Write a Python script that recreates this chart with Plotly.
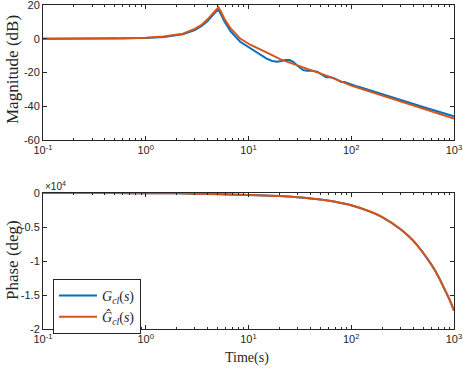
import plotly.graph_objects as go

# frequency grid (rad/s) and read-off values
freq_true = [0.1, 0.3, 0.6, 1, 1.5, 2.3, 3, 3.5, 4, 4.5, 4.8, 5.1, 5.4, 5.8, 6.7, 8.3,
             10.5, 13, 15, 17, 19, 21, 23, 25, 27, 30, 34, 37, 42, 47, 52, 57, 63, 68,
             74, 80, 86, 92, 100, 110, 120, 135, 150, 170, 200, 300, 500, 1000]
mag_true = [0, 0, 0.1, 0.4, 1.0, 2.6, 5.2, 7.6, 10.5, 14.0, 16.0, 17.0, 14.5, 10.5, 4.3, -1.8,
            -5.8, -9.5, -11.8, -13.2, -13.6, -13.2, -12.6, -12.6, -13.5, -16.0, -18.5, -18.9,
            -18.9, -19.6, -21.2, -22.8, -22.8, -23.3, -24.5, -25.6, -25.6, -26.3, -27.3, -28.0,
            -28.6, -29.6, -30.4, -31.4, -32.6, -36.2, -40.4, -46.0]

freq_est = [0.1, 0.3, 0.6, 1, 1.5, 2.3, 3, 3.5, 4, 4.5, 4.8, 5.1, 5.4, 5.8, 6.7, 8.3,
            10.5, 13, 16.4, 20.5, 35, 60, 100, 200, 500, 1000]
mag_est = [0, 0, 0.2, 0.6, 1.3, 3.0, 5.8, 8.3, 11.5, 15.0, 17.2, 18.6, 16.0, 12.0, 6.1, 0.1,
           -3.7, -6.2, -9.3, -12.2, -17.3, -22.3, -27.8, -33.8, -41.5, -47.3]

freq_phase = [0.1, 0.2, 0.5, 1, 2, 5, 10, 20, 30, 50, 70, 100, 150, 200, 300, 400, 500,
              600, 700, 800, 900, 1000]
phase_true = [-2, -4, -10, -25, -50, -170, -300, -450, -620, -950, -1300, -1800, -2700,
              -3550, -5300, -7000, -8800, -10500, -12200, -14000, -15600, -17300]
phase_est = [-2, -4, -10, -25, -50, -160, -290, -440, -610, -940, -1290, -1790, -2690,
             -3540, -5290, -6990, -8790, -10490, -12190, -13990, -15590, -17290]

x_ticks = [0.1, 1, 10, 100, 1000]
x_labels = ['10<sup>-1</sup>', '10<sup>0</sup>', '10<sup>1</sup>', '10<sup>2</sup>', '10<sup>3</sup>']
mag_ticks = [20, 0, -20, -40, -60]
phase_ticks = [0, -5000, -10000, -15000, -20000]
phase_labels = ['0', '-0.5', '-1', '-1.5', '-2']

BLUE = '#0072BD'
ORANGE = '#D95319'
AX = '#262626'
SERIF = 'Liberation Serif'
SANS = 'Liberation Sans'

minor_vals = [m * 10 ** e for e in range(-1, 3) for m in range(2, 10)]

fig = go.Figure()
fig.add_trace(go.Scatter(x=freq_true, y=mag_true, mode='lines', line=dict(color=BLUE, width=2),
                         xaxis='x', yaxis='y', showlegend=False))
fig.add_trace(go.Scatter(x=freq_est, y=mag_est, mode='lines', line=dict(color=ORANGE, width=2),
                         xaxis='x', yaxis='y', showlegend=False))
fig.add_trace(go.Scatter(x=freq_phase, y=phase_true, mode='lines', line=dict(color=BLUE, width=2, shape='spline'),
                         xaxis='x2', yaxis='y2',
                         name='<i>G</i><sub><i>cl</i></sub>(<i>s</i>)'))
fig.add_trace(go.Scatter(x=freq_phase, y=phase_est, mode='lines', line=dict(color=ORANGE, width=2, shape='spline'),
                         xaxis='x2', yaxis='y2',
                         name='<i>G\u0302</i><sub><i>cl</i></sub>(<i>s</i>)'))


def xaxis(anchor):
    return dict(type='log', range=[-1, 3], domain=[43 / 463, 454 / 463], anchor=anchor,
                tickvals=x_ticks, ticktext=x_labels, ticks='inside', ticklen=4,
                minor=dict(tickvals=minor_vals, ticks='inside', ticklen=2, tickcolor=AX),
                showline=True, linecolor=AX, linewidth=1, mirror='ticks', tickcolor=AX,
                showgrid=False, zeroline=False, automargin=False, ticklabeloverflow='allow',
                tickfont=dict(family=SANS, size=11, color=AX))


def yaxis(rng, dom, anchor, vals, labels):
    return dict(range=rng, domain=dom, anchor=anchor, tickvals=vals, ticktext=labels,
                ticks='inside', ticklen=4, tickcolor=AX, showline=True, linecolor=AX,
                linewidth=1, mirror='ticks', showgrid=False, zeroline=False, automargin=False,
                ticklabeloverflow='allow', tickfont=dict(family=SANS, size=11, color=AX))


def label(text, x, y, size, angle=0, family=SERIF, xanchor='center'):
    return dict(text=text, x=x / 463, y=1 - y / 369, xref='paper', yref='paper',
                xanchor=xanchor, yanchor='middle', showarrow=False, textangle=angle,
                font=dict(family=family, size=size, color=AX))


fig.update_layout(
    width=463, height=369,
    margin=dict(l=0, r=0, t=0, b=0, autoexpand=False),
    paper_bgcolor='white', plot_bgcolor='white',
    xaxis=xaxis('y'),
    xaxis2=xaxis('y2'),
    yaxis=yaxis([-60, 20], [1 - 140 / 369, 1 - 5 / 369], 'x', mag_ticks, [str(v) for v in mag_ticks]),
    yaxis2=yaxis([-20000, 0], [1 - 329 / 369, 1 - 193 / 369], 'x2', phase_ticks, phase_labels),
    legend=dict(x=53 / 463, y=1 - 279 / 369, xanchor='left', yanchor='top',
                bgcolor='white', bordercolor=AX, borderwidth=1,
                font=dict(family=SERIF, size=14, color=AX), itemwidth=38,
                tracegroupgap=0),
    annotations=[
        label('Magnitude (dB)', 12, 70, 17, angle=-90),
        label('Phase (deg)', 12, 260, 17, angle=-90),
        label('Time(s)', 247, 358, 14),
        label('\u00d710<sup>4</sup>', 43, 186, 10, family=SANS, xanchor='left'),
    ],
)

# drop the page's default body margin so the figure sits at the window's corner
fig.write_html('out.html', config={'displayModeBar': False},
               post_script="document.body.style.margin='0';")
